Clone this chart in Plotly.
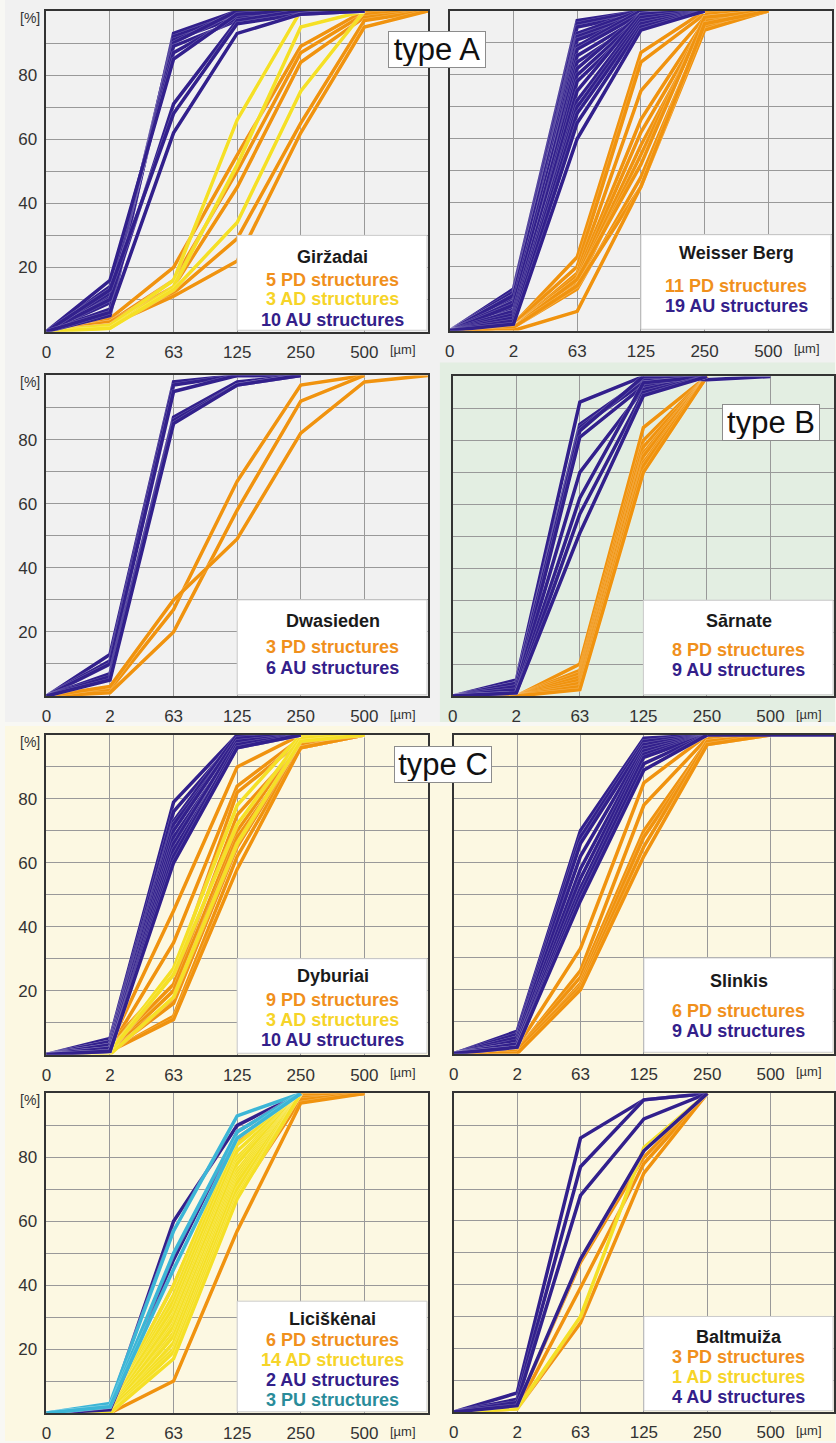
import plotly.graph_objects as go

# ---------------- data ----------------
X_LABELS = ["0", "2", "63", "125", "250", "500"]
Y_TICKS = [0, 10, 20, 30, 40, 50, 60, 70, 80, 90, 100]
Y_LABELS = ["", "", "20", "", "40", "", "60", "", "80", "", ""]

# Giržadai
GIRZADAI_PD = [
    [0, 4, 20, 55, 89, 100, 100],
    [0, 3, 16, 50, 87, 99, 100],
    [0, 3, 14, 45, 84, 98, 100],
    [0, 2, 12, 29, 65, 97, 100],
    [0, 2, 11, 22, 62, 95, 100],
]
GIRZADAI_AD = [
    [0, 2, 16, 66, 100, 100],
    [0, 1, 14, 52, 95, 100],
    [0, 1, 13, 34, 75, 100],
]
GIRZADAI_AU = [
    [0, 5, 93, 100, 100, 100],
    [0, 9, 92, 99, 100, 100],
    [0, 7, 91, 98, 100, 100],
    [0, 11, 90, 100, 100, 100],
    [0, 12, 89, 97, 100, 100],
    [0, 14, 87, 98, 100, 100],
    [0, 16, 85, 99, 100, 100],
    [0, 10, 71, 97, 100, 100],
    [0, 13, 68, 96, 99, 100],
    [0, 6, 62, 93, 99, 100],
]

# Weisser Berg
WEISSER_PD = [
    [0, 2, 23, 87, 100, 100],
    [0, 2, 20, 84, 99, 100],
    [0, 1, 18, 75, 98, 100],
    [0, 1, 17, 66, 97, 100],
    [0, 1, 16, 62, 96, 100],
    [0, 1, 15, 58, 95, 100],
    [0, 1, 14, 55, 97, 100],
    [0, 1, 16, 52, 98, 100],
    [0, 1, 13, 48, 95, 100],
    [0, 1, 14, 45, 94, 100],
    [0, 0, 6, 45, 96, 100],
]
WEISSER_AU = [
    [0, 13, 97, 100, 100],
    [0, 12, 96, 100, 100],
    [0, 11, 95, 99, 100],
    [0, 10, 93, 100, 100],
    [0, 9, 92, 99, 100],
    [0, 8, 91, 98, 100],
    [0, 11, 89, 100, 100],
    [0, 7, 88, 99, 100],
    [0, 6, 86, 98, 100],
    [0, 9, 84, 97, 100],
    [0, 5, 82, 99, 100],
    [0, 8, 80, 98, 100],
    [0, 4, 78, 97, 100],
    [0, 6, 75, 99, 100],
    [0, 3, 72, 98, 100],
    [0, 5, 70, 97, 100],
    [0, 4, 68, 96, 100],
    [0, 3, 65, 95, 100],
    [0, 2, 60, 94, 100],
]

# Dwasieden
DWASIEDEN_PD = [
    [0, 2, 27, 67, 97, 100],
    [0, 1, 20, 58, 92, 100],
    [0, 3, 30, 49, 82, 98, 100],
]
DWASIEDEN_AU = [
    [0, 13, 98, 100, 100],
    [0, 11, 97, 100, 100],
    [0, 10, 95, 100, 100],
    [0, 7, 87, 98, 100],
    [0, 6, 86, 97, 100],
    [0, 5, 85, 97, 100],
]

# Sārnate
SARNATE_PD = [
    [0, 0, 10, 84, 100],
    [0, 0, 8, 80, 100],
    [0, 0, 7, 78, 100],
    [0, 0, 6, 76, 100],
    [0, 0, 5, 75, 100],
    [0, 0, 4, 73, 100],
    [0, 0, 3, 72, 100],
    [0, 0, 2, 70, 100],
]
SARNATE_AU = [
    [0, 5, 92, 100, 99, 100],
    [0, 4, 85, 99, 100],
    [0, 3, 84, 98, 100],
    [0, 4, 83, 100, 100],
    [0, 2, 81, 97, 100],
    [0, 3, 70, 96, 100],
    [0, 2, 62, 98, 100],
    [0, 1, 57, 95, 100],
    [0, 1, 51, 94, 100],
]

# Dyburiai
DYBURIAI_PD = [
    [0, 3, 45, 90, 100, 100],
    [0, 2, 35, 84, 99, 100],
    [0, 3, 25, 82, 98, 100],
    [0, 2, 22, 75, 97, 100],
    [0, 1, 20, 70, 98, 100],
    [0, 2, 17, 68, 96, 100],
    [0, 1, 16, 65, 97, 100],
    [0, 1, 12, 62, 96, 100],
    [0, 1, 11, 58, 96, 100],
]
DYBURIAI_AD = [
    [0, 1, 27, 78, 100, 100],
    [0, 1, 25, 72, 99, 100],
    [0, 0, 18, 66, 98, 100],
]
DYBURIAI_AU = [
    [0, 5, 79, 100, 100],
    [0, 4, 76, 99, 100],
    [0, 4, 73, 100, 100],
    [0, 3, 72, 98, 100],
    [0, 3, 70, 99, 100],
    [0, 2, 68, 97, 100],
    [0, 2, 66, 98, 100],
    [0, 1, 64, 96, 100],
    [0, 1, 62, 97, 100],
    [0, 1, 60, 96, 100],
]

# Slinkis
SLINKIS_PD = [
    [0, 2, 33, 85, 100, 100],
    [0, 1, 26, 78, 99, 100],
    [0, 1, 24, 70, 98, 100],
    [0, 0, 22, 68, 97, 100],
    [0, 1, 21, 65, 98, 100],
    [0, 0, 20, 62, 97, 100],
]
SLINKIS_AU = [
    [0, 7, 70, 99, 100, 100, 100],
    [0, 6, 68, 98, 100],
    [0, 5, 66, 97, 100],
    [0, 5, 62, 96, 100],
    [0, 4, 58, 95, 100],
    [0, 3, 55, 94, 100],
    [0, 3, 52, 93, 100],
    [0, 2, 50, 91, 100],
    [0, 2, 48, 89, 100],
]

# Liciškėnai
LICISKENAI_PD = [
    [0, 2, 40, 85, 100, 100],
    [0, 1, 35, 80, 98, 100],
    [0, 1, 30, 75, 99, 100],
    [0, 1, 25, 72, 100, 100],
    [0, 0, 20, 68, 98, 100],
    [0, 0, 10, 57, 97, 100],
]
LICISKENAI_AD = [
    [0, 2, 40, 86, 100],
    [0, 1, 37, 84, 100],
    [0, 1, 35, 82, 100],
    [0, 2, 33, 80, 100],
    [0, 1, 31, 79, 100],
    [0, 1, 30, 78, 100],
    [0, 0, 28, 76, 100],
    [0, 1, 27, 75, 100],
    [0, 0, 25, 74, 100],
    [0, 1, 24, 73, 100],
    [0, 0, 22, 72, 100],
    [0, 1, 20, 70, 100],
    [0, 0, 19, 68, 100],
    [0, 0, 17, 67, 100],
]
LICISKENAI_AU = [
    [0, 2, 60, 90, 100],
    [0, 1, 48, 88, 100],
]
LICISKENAI_PU = [
    [0, 3, 57, 93, 100],
    [0, 2, 50, 88, 100],
    [0, 2, 45, 86, 100],
]

# Baltmuiža
BALTMUIZA_PD = [
    [0, 2, 47, 80, 100],
    [0, 1, 39, 78, 100],
    [0, 1, 28, 75, 100],
]
BALTMUIZA_AD = [
    [0, 1, 30, 83, 100],
]
BALTMUIZA_AU = [
    [0, 6, 86, 98, 100],
    [0, 4, 77, 98, 100],
    [0, 3, 68, 92, 100],
    [0, 2, 48, 82, 100],
]

# ---------------- styles ----------------
LINE_COL = {"PD": "#f0930f", "AD": "#f5e026", "AU": "#32208c", "PU": "#3cb6d6"}
TEXT_COL = {"PD": "#f0901c", "AD": "#f6d428", "AU": "#33208a", "PU": "#2a8c9a"}
FONT = "Liberation Sans, Arial, Helvetica, sans-serif"

W, H = 836, 1443


def px_dom(a, b, total):
    return [a / total, b / total]


def py_dom(top, bottom):
    return [1 - bottom / H, 1 - top / H]


PANELS = [
    dict(name="Giržadai", xd=(41.7, 426), yd=(11, 332), ylab=True, box=30,
         groups=[("PD", GIRZADAI_PD, "5 PD structures"), ("AD", GIRZADAI_AD, "3 AD structures"),
                 ("AU", GIRZADAI_AU, "10 AU structures")],
         tpos=[23.1, 16.2, 10.0, 3.6]),
    dict(name="Weisser Berg", xd=(448, 833), yd=(11, 331), ylab=False, box=30,
         groups=[("PD", WEISSER_PD, "11 PD structures"), ("AU", WEISSER_AU, "19 AU structures")],
         tpos=[24.4, 14.0, 7.8]),
    dict(name="Dwasieden", xd=(41.7, 426), yd=(376, 697), ylab=True, box=30,
         groups=[("PD", DWASIEDEN_PD, "3 PD structures"), ("AU", DWASIEDEN_AU, "6 AU structures")],
         tpos=[23.4, 15.3, 8.7]),
    dict(name="Sārnate", xd=(451, 835), yd=(377, 697), ylab=False, box=30,
         groups=[("PD", SARNATE_PD, "8 PD structures"), ("AU", SARNATE_AU, "9 AU structures")],
         tpos=[23.4, 14.4, 8.1]),
    dict(name="Dyburiai", xd=(41.7, 426), yd=(736, 1056), ylab=True, box=30,
         groups=[("PD", DYBURIAI_PD, "9 PD structures"), ("AD", DYBURIAI_AD, "3 AD structures"),
                 ("AU", DYBURIAI_AU, "10 AU structures")],
         tpos=[24.5, 17.0, 10.7, 4.5]),
    dict(name="Slinkis", xd=(452, 835), yd=(736, 1055), ylab=False, box=30,
         groups=[("PD", SLINKIS_PD, "6 PD structures"), ("AU", SLINKIS_AU, "9 AU structures")],
         tpos=[22.9, 13.5, 7.2]),
    dict(name="Liciškėnai", xd=(41.7, 426), yd=(1095, 1415), ylab=True, box=35,
         groups=[("PD", LICISKENAI_PD, "6 PD structures"), ("AD", LICISKENAI_AD, "14 AD structures"),
                 ("AU", LICISKENAI_AU, "2 AU structures"), ("PU", LICISKENAI_PU, "3 PU structures")],
         tpos=[29.5, 22.9, 16.7, 10.3, 4.0]),
    dict(name="Baltmuiža", xd=(452, 835), yd=(1095, 1414), ylab=False, box=30,
         groups=[("PD", BALTMUIZA_PD, "3 PD structures"), ("AD", BALTMUIZA_AD, "1 AD structures"),
                 ("AU", BALTMUIZA_AU, "4 AU structures")],
         tpos=[23.5, 17.2, 11.0, 4.7]),
]

fig = go.Figure()
layout = {}
shapes = []
annotations = []

# background regions
shapes.append(dict(type="rect", xref="paper", yref="paper", x0=0, x1=1,
                   y0=1 - 723 / H, y1=1, fillcolor="#f1f1f1", line_width=0, layer="below"))
shapes.append(dict(type="rect", xref="paper", yref="paper", x0=438 / W, x1=1,
                   y0=1 - 723 / H, y1=1 - 363 / H, fillcolor="#e3eee2", line_width=0, layer="below"))
shapes.append(dict(type="rect", xref="paper", yref="paper", x0=0, x1=1,
                   y0=0, y1=1 - 727 / H, fillcolor="#fcf8e2", line_width=0, layer="below"))

for i, p in enumerate(PANELS, start=1):
    xa = "x" if i == 1 else f"x{i}"
    ya = "y" if i == 1 else f"y{i}"
    for key, series, _ in p["groups"]:
        for ys in series:
            xs = list(range(len(ys)))
            fig.add_trace(go.Scatter(x=xs, y=ys, mode="lines", xaxis=xa, yaxis=ya,
                                     line=dict(color="rgba(255,255,255,0.3)", width=4.4),
                                     hoverinfo="skip", showlegend=False))
            fig.add_trace(go.Scatter(x=xs, y=ys, mode="lines", xaxis=xa, yaxis=ya,
                                     line=dict(color=LINE_COL[key], width=3.5),
                                     hoverinfo="skip", showlegend=False))
    axs = "" if i == 1 else str(i)
    layout[f"xaxis{axs}"] = dict(
        domain=px_dom(p["xd"][0], p["xd"][1], W), range=[0, 6], anchor=ya,
        tickvals=list(range(len(X_LABELS))), ticktext=X_LABELS,
        showgrid=True, gridcolor="#999999", gridwidth=1, zeroline=False,
        showline=True, mirror=True, linecolor="#333333", linewidth=1.6,
        ticks="", tickfont=dict(size=17, color="#333333", family=FONT),
        ticklabelstandoff=4, fixedrange=True)
    layout[f"yaxis{axs}"] = dict(
        domain=py_dom(p["yd"][0], p["yd"][1]), range=[0, 100], anchor=xa,
        tickvals=Y_TICKS, ticktext=Y_LABELS, showticklabels=p["ylab"],
        showgrid=True, gridcolor="#999999", gridwidth=1, zeroline=False,
        showline=True, mirror=True, linecolor="#333333", linewidth=1.6,
        ticks="", tickfont=dict(size=17, color="#333333", family=FONT),
        ticklabelstandoff=4, fixedrange=True)

    # legend box
    shapes.append(dict(type="rect", xref=xa, yref=ya, x0=3, x1=5.985, y0=0.4, y1=p["box"],
                       fillcolor="white", line=dict(color="#cccccc", width=1), layer="above"))
    texts = [(p["name"], "#1a1a1a")] + [(lbl, TEXT_COL[k]) for k, _, lbl in p["groups"]]
    for (t, c), yp in zip(texts, p["tpos"]):
        annotations.append(dict(xref=xa, yref=ya, x=4.5, y=yp, text=f"<b>{t}</b>",
                                showarrow=False, xanchor="center", yanchor="middle",
                                font=dict(size=18, color=c, family=FONT)))
    # unit labels
    annotations.append(dict(xref=xa, yref=ya, x=5.6, y=0, text="[µm]", showarrow=False,
                            xanchor="center", yanchor="middle", yshift=-18,
                            font=dict(size=13, color="#333333", family=FONT)))
    if p["ylab"]:
        annotations.append(dict(xref=f"{xa} domain", yref=f"{ya} domain", x=0, y=1,
                                text="[%]", showarrow=False, xanchor="right", yanchor="middle",
                                xshift=-4, yshift=-7,
                                font=dict(size=14, color="#333333", family=FONT)))

# type labels
for txt, cx, cy in [("type A", 435, 50), ("type B", 772, 423), ("type C", 441, 766)]:
    annotations.append(dict(xref="paper", yref="paper", x=cx / W, y=1 - cy / H, text=txt,
                            showarrow=False, xanchor="center", yanchor="middle",
                            bgcolor="white", bordercolor="#8c8c8c", borderwidth=1, borderpad=1,
                            width=94, height=33,
                            font=dict(size=31, color="#111111", family=FONT)))

fig.update_layout(
    width=W, height=H, margin=dict(l=0, r=0, t=0, b=0),
    paper_bgcolor="#f8f8f4", plot_bgcolor="rgba(0,0,0,0)",
    showlegend=False, shapes=shapes, annotations=annotations,
    font=dict(family=FONT), **layout)

fig.write_html("out.html")
